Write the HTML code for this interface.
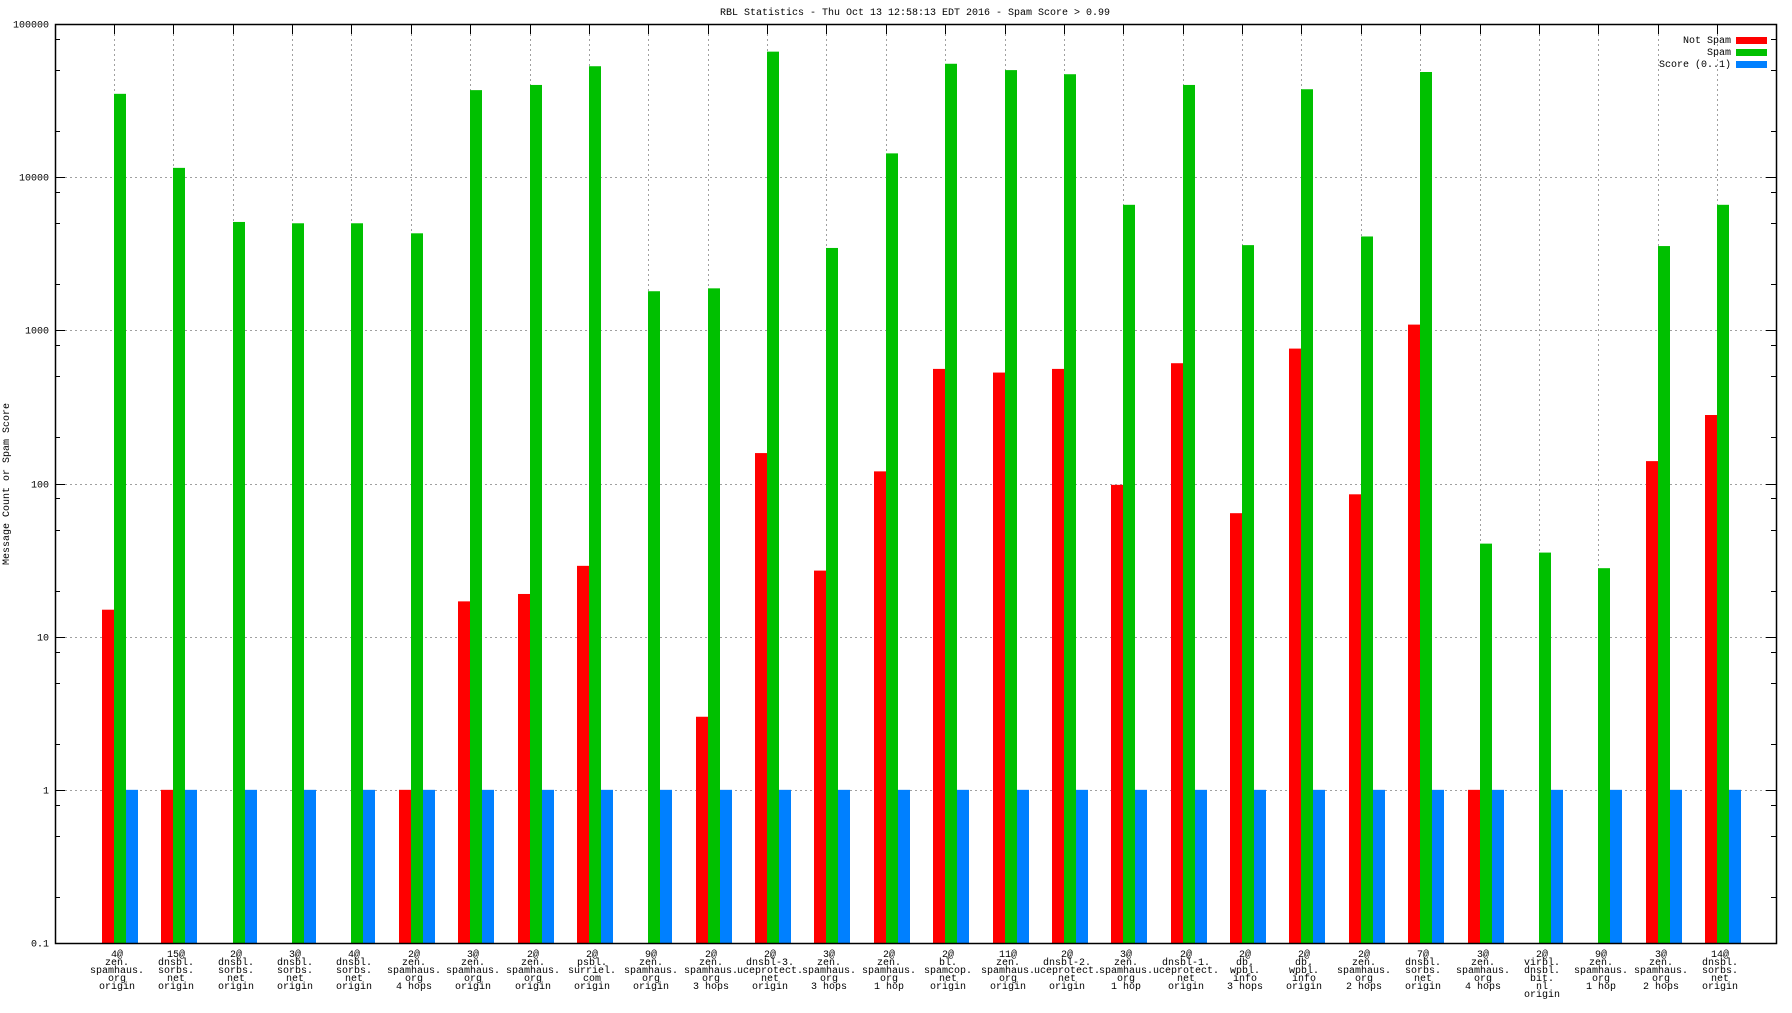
<!DOCTYPE html>
<html><head><meta charset="utf-8">
<style>
html,body{margin:0;padding:0;background:#fff;}
svg text{font-family:"Liberation Mono","DejaVu Sans Mono",monospace;font-size:10px;fill:#000;}
</style></head>
<body>
<svg id="chart" xmlns="http://www.w3.org/2000/svg" width="1792" height="1008" viewBox="0 0 1792 1008">
<rect x="0" y="0" width="1792" height="1008" fill="#fff"/>
<text x="915" y="15" text-anchor="middle">RBL Statistics - Thu Oct 13 12:58:13 EDT 2016 - Spam Score &gt; 0.99</text>
<text transform="translate(9,484) rotate(-90)" text-anchor="middle">Message Count or Spam Score</text>
<g id="grid"></g>
<g id="bars"></g>
<g id="axes"></g>
<g id="xlabels"></g>
<g>
  <g>
    <text x="1731" y="43" text-anchor="end">Not Spam</text>
    <rect x="1736" y="37" width="31" height="7" fill="#ff0000"/>
  </g>
  <g>
    <text x="1731" y="55" text-anchor="end">Spam</text>
    <rect x="1736" y="49" width="31" height="7" fill="#00c000"/>
  </g>
  <g>
    <text x="1731" y="67" text-anchor="end">Score (0..1)</text>
    <rect x="1736" y="61" width="31" height="7" fill="#0080ff"/>
  </g>
</g>
</svg>
<script>
const categories = [
 ["4@","zen.","spamhaus.","org","origin"],
 ["15@","dnsbl.","sorbs.","net","origin"],
 ["2@","dnsbl.","sorbs.","net","origin"],
 ["3@","dnsbl.","sorbs.","net","origin"],
 ["4@","dnsbl.","sorbs.","net","origin"],
 ["2@","zen.","spamhaus.","org","4 hops"],
 ["3@","zen.","spamhaus.","org","origin"],
 ["2@","zen.","spamhaus.","org","origin"],
 ["2@","psbl.","surriel.","com","origin"],
 ["9@","zen.","spamhaus.","org","origin"],
 ["2@","zen.","spamhaus.","org","3 hops"],
 ["2@","dnsbl-3.","uceprotect.","net","origin"],
 ["3@","zen.","spamhaus.","org","3 hops"],
 ["2@","zen.","spamhaus.","org","1 hop"],
 ["2@","bl.","spamcop.","net","origin"],
 ["11@","zen.","spamhaus.","org","origin"],
 ["2@","dnsbl-2.","uceprotect.","net","origin"],
 ["3@","zen.","spamhaus.","org","1 hop"],
 ["2@","dnsbl-1.","uceprotect.","net","origin"],
 ["2@","db.","wpbl.","info","3 hops"],
 ["2@","db.","wpbl.","info","origin"],
 ["2@","zen.","spamhaus.","org","2 hops"],
 ["7@","dnsbl.","sorbs.","net","origin"],
 ["3@","zen.","spamhaus.","org","4 hops"],
 ["2@","virbl.","dnsbl.","bit.","nl","origin"],
 ["9@","zen.","spamhaus.","org","1 hop"],
 ["3@","zen.","spamhaus.","org","2 hops"],
 ["14@","dnsbl.","sorbs.","net","origin"]
];
const notSpam = [15,1,0,0,0,1,17,19,29,0,3,158,27,120,560,530,560,98,610,64,760,85,1090,1,0,0,140,280];
const spam = [35000,11500,5100,5000,5000,4300,37000,40000,53000,1800,1880,66000,3450,14300,55000,50000,47000,6600,40000,3600,37500,4100,48600,40.5,35.4,28,3550,6600];
const score = [1,1,1,1,1,1,1,1,1,1,1,1,1,1,1,1,1,1,1,1,1,1,1,1,1,1,1,1];
const yTickValues = [0.1,1,10,100,1000,10000,100000];
const yTickLabels = ["0.1","1","10","100","1000","10000","100000"];

const NS="http://www.w3.org/2000/svg";
const L=55,R=1776,T=24,B=943;
const yMin=-1,yMax=5;
function y(v){return B-(Math.log10(v)-yMin)/(yMax-yMin)*(B-T);}
function x(i){return 114+i*(1717-114)/(categories.length-1);}
function mk(tag,attrs,parent){const e=document.createElementNS(NS,tag);for(const k in attrs)e.setAttribute(k,attrs[k]);parent.appendChild(e);return e;}
const grid=document.getElementById('grid'),bars=document.getElementById('bars'),axes=document.getElementById('axes'),xl=document.getElementById('xlabels');

yTickValues.forEach((v,i)=>{
  const yy=Math.round(y(v))+0.5;
  if(i>0&&i<yTickValues.length-1){
    const g=mk('line',{x1:L,x2:R,y1:yy,y2:yy,stroke:'#a0a0a0','stroke-dasharray':'2,3','stroke-width':1},grid);
    
    
  }
  mk('line',{x1:L,x2:L+10,y1:yy,y2:yy,stroke:'#000'},axes);
  mk('line',{x1:R-10,x2:R,y1:yy,y2:yy,stroke:'#000'},axes);
  const t=mk('text',{x:49,y:yy+3,'text-anchor':'end'},axes);
  t.textContent=yTickLabels[i];
  
  
  if(i<yTickValues.length-1){
    [2,5,8].forEach(m=>{const my=Math.round(y(v*m))+0.5;
      mk('line',{x1:L,x2:L+5,y1:my,y2:my,stroke:'#000'},axes);
      mk('line',{x1:R-5,x2:R,y1:my,y2:my,stroke:'#000'},axes);});
  }
});
categories.forEach((c,i)=>{
  const xx=Math.round(x(i))+0.5;
  const g=mk('line',{x1:xx,x2:xx,y1:T,y2:B,stroke:'#a0a0a0','stroke-dasharray':'2,3'},grid);
  
  
  mk('line',{x1:xx,x2:xx,y1:T,y2:T+10,stroke:'#000'},axes);
  const t=mk('text',{x:Math.round(x(i))+3,y:B+14,'text-anchor':'middle'},xl);
  
  
  c.forEach((ln,j)=>{const s=mk('tspan',{x:Math.round(x(i))+3,dy:j?8:0},t);s.textContent=ln;});
});
const series=[[notSpam,'#ff0000',-12,'bar-not-spam'],[spam,'#00c000',0,'bar-spam'],[score,'#0080ff',12,'bar-score']];
series.forEach(([vals,col,off,name])=>{
  vals.forEach((v,i)=>{
    if(!(v>0.1))return;
    const top=y(v);
    const r=mk('rect',{x:Math.round(x(i))+off,y:top,width:12,height:B-top,fill:col},bars);
    
    
  });
});
mk('rect',{x:L+0.5,y:T+0.5,width:R-L,height:B-T,fill:'none',stroke:'#000','stroke-width':1.5},axes);
</script>
</body></html>
